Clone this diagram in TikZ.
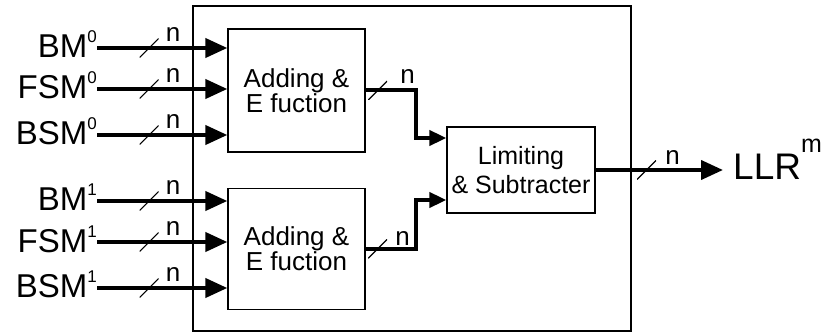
\documentclass[tikz,border=0pt]{standalone}
\usepackage{fontspec}
\setmainfont{Liberation Sans}
\usetikzlibrary{arrows.meta,positioning,calc}
\newcommand{\supx}[1]{\raisebox{15pt}{\fontsize{17pt}{17pt}\selectfont #1}}

\begin{document}
\begin{tikzpicture}[x=1pt, y=1pt,
    blk/.style={draw, line width=1.3pt, align=center, inner sep=0pt, font=\fontsize{26pt}{24pt}\selectfont},
    sig/.style={inner sep=0pt, anchor=base east, font=\fontsize{33pt}{33pt}\selectfont},
    bus/.style={line width=4pt, -{Triangle[length=22pt,width=19pt]}},
    tick/.style={minimum size=19pt, inner sep=0pt, path picture={\draw[line width=1.2pt, arrows=-] (path picture bounding box.south west) -- (path picture bounding box.north east);}},
    nlab/.style={inner sep=0pt, font=\fontsize{26pt}{26pt}\selectfont}
  ]
    \useasboundingbox (0,0) rectangle (823,-334);
    \node[draw, line width=1.5pt, inner sep=0pt, minimum width=438pt, minimum height=325pt] (frame) at (412,-168.5) {};
    \node[blk, minimum width=137pt, minimum height=123pt] (add0) at (296.5,-90.5) {Adding \&\\E fuction};
    \node[blk, minimum width=137pt, minimum height=121pt, below=35pt of add0] (add1) {Adding \&\\E fuction};
    \node[blk, minimum width=148pt, minimum height=86pt, font=\fontsize{25pt}{29pt}\selectfont] (lim) at (521,-170) {Limiting\\\& Subtracter};
    % inputs
    \node[sig] (bm0) at (97,-58) {BM\supx{0}};
    \node[sig] (fsm0) at (97,-99) {FSM\supx{0}};
    \node[sig] (bsm0) at (97,-145) {BSM\supx{0}};
    \node[sig] (bm1) at (97,-211) {BM\supx{1}};
    \node[sig] (fsm1) at (97,-252) {FSM\supx{1}};
    \node[sig] (bsm1) at (97,-298) {BSM\supx{1}};
    \foreach \s/\b in {bm0/add0, fsm0/add0, bsm0/add0, bm1/add1, fsm1/add1, bsm1/add1}{
      \coordinate (\s-o) at ([yshift=10pt]\s.base east);
      \draw[bus] (\s-o) -- node[tick, pos=0.4] {} node[nlab, pos=0.4, xshift=24pt, yshift=13pt] {n} (\b.west |- \s-o);
    }
    % to limiter
    \draw[bus, -{Triangle[length=17pt,width=15pt]}] (add0.east) -- node[tick, pos=0.24] {} node[nlab, pos=0.84, yshift=14pt] {n} ++(50,0) |- ([yshift=32pt]lim.west);
    \draw[bus, -{Triangle[length=17pt,width=15pt]}] (add1.east) -- node[tick, pos=0.24] {} node[nlab, pos=0.74, yshift=10pt] {n} ++(50,0) |- ([yshift=-30pt]lim.west);
    % output
    \node[sig, anchor=base west, font=\fontsize{37pt}{37pt}\selectfont] (llr) at (733,-180) {LLR\raisebox{27pt}{\fontsize{25pt}{25pt}\selectfont m}};
    \draw[bus] (lim.east) -- node[tick, pos=0.4] {} node[nlab, pos=0.4, xshift=26pt, yshift=12pt] {n} ([xshift=-10pt]llr.west |- lim.east);
\end{tikzpicture}
\end{document}
